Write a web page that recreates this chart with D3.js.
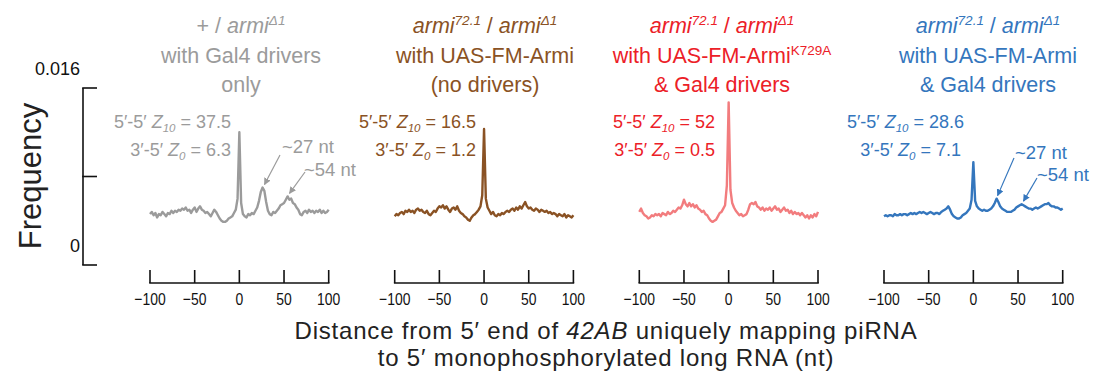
<!DOCTYPE html>
<html>
<head>
<meta charset="utf-8">
<script src="https://cdn.jsdelivr.net/npm/d3@7"></script>
<style>
  html, body { margin: 0; padding: 0; background: #fff; }
  svg { display: block; font-family: "Liberation Sans", Arial, sans-serif; }
</style>
</head>
<body>
<svg id="chart"></svg>
<script>
// distance (nt) from the piRNA 5' end, one point every 2 nt
const positions = d3.range(-100, 101, 2);

// frequency, in units of 10^-3
const grayFreq = [
  4.6, 4.8, 4.5, 4.7, 4.3, 4.6, 4.5, 4.8, 4.6, 4.4, 4.7, 4.6, 4.9, 4.7, 4.9, 4.8, 5.0, 4.9, 5.1, 5.0,
  5.2, 4.9, 5.0, 4.7, 5.0, 5.2, 4.8, 5.1, 5.3, 5.0, 4.9, 4.7, 4.8, 4.6, 4.4, 4.7, 5.0, 4.8, 4.5, 4.2,
  4.0, 3.9, 3.9, 4.0, 4.2, 4.3, 4.4, 4.7, 5.0, 6.0, 12.0, 5.6, 4.6, 4.4, 4.3, 4.6, 4.5, 4.7, 4.6, 4.9,
  5.2, 5.8, 6.6, 7.0, 6.7, 5.7, 4.9, 4.6, 4.5, 4.8, 4.7, 4.9, 5.1, 5.4, 5.5, 5.6, 5.9, 6.2, 5.9, 6.0,
  5.6, 5.5, 5.2, 5.0, 4.6, 4.5, 4.8, 4.9, 4.7, 5.0, 4.8, 4.9, 4.7, 4.9, 4.8, 5.0, 4.7, 4.9, 4.7, 4.8,
  5.0
];
const brownFreq = [
  4.4, 4.6, 4.5, 4.7, 4.8, 4.6, 4.9, 4.8, 5.0, 4.8, 4.9, 4.7, 5.0, 5.1, 4.9, 5.0, 4.8, 4.7, 4.9, 4.6,
  4.5, 4.7, 4.9, 4.8, 5.1, 5.3, 5.2, 5.4, 5.1, 5.3, 5.0, 4.8, 5.1, 5.2, 5.0, 5.3, 4.9, 4.7, 4.6, 4.4,
  4.3, 4.1, 4.0, 4.3, 4.5, 4.6, 4.8, 5.0, 5.3, 6.3, 12.3, 6.0, 5.2, 4.9, 4.6, 4.8, 4.5, 4.4, 4.6, 4.5,
  4.7, 4.6, 4.8, 4.9, 4.8, 5.0, 5.1, 4.9, 5.2, 5.0, 5.3, 5.1, 5.4, 5.7, 5.3, 5.1, 5.2, 5.0, 4.9, 5.1,
  5.0, 4.8, 5.0, 4.9, 4.8, 4.9, 4.7, 4.8, 4.6, 4.7, 4.6, 4.4, 4.6, 4.5, 4.4, 4.6, 4.3, 4.5, 4.4, 4.3,
  4.5
];
const redFreq = [
  4.8, 5.1, 4.7, 4.5, 4.4, 4.2, 4.3, 4.5, 4.4, 4.6, 4.5, 4.6, 4.4, 4.7, 4.6, 4.5, 4.8, 4.6, 4.7, 4.9,
  4.8, 5.0, 5.2, 5.1, 5.4, 5.9, 5.5, 5.3, 5.6, 5.3, 5.5, 5.2, 5.4, 5.1, 5.0, 4.8, 4.9, 4.6, 4.5, 4.2,
  4.0, 3.9, 4.0, 4.1, 4.4, 4.7, 4.8, 5.1, 5.4, 7.2, 14.7, 6.8, 5.6, 5.2, 4.9, 4.7, 4.5, 4.6, 4.4, 4.5,
  4.6, 5.0, 5.5, 5.6, 5.5, 5.7, 5.3, 5.2, 5.0, 5.2, 4.9, 5.1, 5.0, 5.2, 4.9, 5.1, 5.3, 5.0, 5.1, 4.8,
  5.0, 5.2, 4.9, 5.0, 4.7, 4.9, 4.6, 4.8, 4.6, 4.7, 4.5, 4.7, 4.5, 4.3, 4.5, 4.2, 4.5, 4.3, 4.6, 4.4,
  4.8
];
const blueFreq = [
  4.4, 4.5, 4.4, 4.5, 4.5, 4.4, 4.6, 4.5, 4.5, 4.6, 4.5, 4.6, 4.6, 4.5, 4.6, 4.7, 4.6, 4.7, 4.6, 4.7,
  4.8, 4.7, 4.8, 4.7, 4.6, 4.7, 4.8, 4.7, 4.6, 4.7, 4.7, 4.6, 4.8, 4.9, 5.0, 5.1, 5.3, 5.0, 4.6, 4.4,
  4.3, 4.2, 4.2, 4.3, 4.5, 4.6, 4.7, 4.9, 5.1, 5.9, 9.3, 5.8, 5.3, 5.1, 5.0, 4.9, 5.0, 4.9, 4.9, 5.0,
  5.1, 5.3, 5.6, 6.0, 5.7, 5.3, 5.1, 5.0, 4.9, 4.8, 4.8, 4.8, 4.9, 5.0, 5.2, 5.3, 5.4, 5.5, 5.4, 5.3,
  5.2, 5.1, 5.1, 5.0, 5.1, 5.2, 5.1, 5.2, 5.3, 5.4, 5.5, 5.5, 5.6, 5.4, 5.3, 5.3, 5.2, 5.2, 5.1, 5.0,
  5.1
];

const xTickValues = [-100, -50, 0, 50, 100];
const yTickValues = [0, 8, 16];
const yTickLabels = ["0", "", "0.016"];

const z10Values = ["37.5", "16.5", "52", "28.6"];
const z0Values = ["6.3", "1.2", "0.5", "7.1"];

// title lines, as runs: [text, italic?, superscript?]
const titleLines = [
  [[["+ / ", 0, 0], ["armi", 1, 0], ["Δ1", 1, 1]], [["with Gal4 drivers", 0, 0]], [["only", 0, 0]]],
  [[["armi", 1, 0], ["72.1", 1, 1], [" / ", 0, 0], ["armi", 1, 0], ["Δ1", 1, 1]], [["with UAS-FM-Armi", 0, 0]], [["(no drivers)", 0, 0]]],
  [[["armi", 1, 0], ["72.1", 1, 1], [" / ", 0, 0], ["armi", 1, 0], ["Δ1", 1, 1]], [["with UAS-FM-Armi", 0, 0], ["K729A", 0, 1]], [["& Gal4 drivers", 0, 0]]],
  [[["armi", 1, 0], ["72.1", 1, 1], [" / ", 0, 0], ["armi", 1, 0], ["Δ1", 1, 1]], [["with UAS-FM-Armi", 0, 0]], [["& Gal4 drivers", 0, 0]]]
];

const panels = [
  { freq: grayFreq, line: "#9b9b9b", text: "#9b9b9b", left: 150, titleX: 241, zX: 231, arrows: true },
  { freq: brownFreq, line: "#8a5224", text: "#8a5224", left: 394.7, titleX: 485, zX: 476, arrows: false },
  { freq: redFreq, line: "#f27c7e", text: "#ec2027", left: 639.3, titleX: 722, zX: 715, arrows: false },
  { freq: blueFreq, line: "#3476bd", text: "#3476bd", left: 884, titleX: 988, zX: 964, arrows: true }
];

const width = 1094, height = 377;
const svg = d3.select("#chart").attr("width", width).attr("height", height)
  .attr("viewBox", `0 0 ${width} ${height}`);

const y = d3.scaleLinear().domain([0, 16]).range([265, 88]);
const panelWidth = 178.7;
const axisY = 283;

// y axis: bracket with three ticks
svg.append("line")
  .attr("x1", 83).attr("x2", 83).attr("y1", y(0)).attr("y2", y(16))
  .attr("stroke", "#111").attr("stroke-width", 1.6);
svg.selectAll(".ytick").data(yTickValues).enter().append("line")
  .attr("x1", 82.2).attr("x2", 97)
  .attr("y1", d => y(d)).attr("y2", d => y(d))
  .attr("stroke", "#111").attr("stroke-width", 1.6);
svg.selectAll(".ylab").data(yTickValues).enter().append("text")
  .attr("x", 80).attr("y", d => y(d) - 13.5)
  .attr("text-anchor", "end")
  .style("font-size", "18px").style("fill", "#111")
  .text((d, i) => yTickLabels[i]);

svg.append("text")
  .attr("transform", "translate(41,176) rotate(-90)")
  .attr("text-anchor", "middle")
  .style("font-size", "31px").style("fill", "#222")
  .text("Frequency");

// arrow heads
panels.forEach((p, i) => {
  svg.append("defs").append("marker")
    .attr("id", "arrow" + i)
    .attr("viewBox", "0 0 10 10").attr("refX", 9).attr("refY", 5)
    .attr("markerWidth", 7).attr("markerHeight", 7)
    .attr("markerUnits", "userSpaceOnUse")
    .attr("orient", "auto")
    .append("path").attr("d", "M0,0L10,5L0,10z").attr("fill", p.text);
});

panels.forEach((p, i) => {
  const x = d3.scaleLinear().domain([-100, 100]).range([p.left, p.left + panelWidth]);
  const g = svg.append("g");

  // bottom axis, ticks pointing up
  g.append("line")
    .attr("x1", x(-100) - 0.8).attr("x2", x(100) + 0.8).attr("y1", axisY).attr("y2", axisY)
    .attr("stroke", "#111").attr("stroke-width", 1.6);
  g.selectAll(".xtick").data(xTickValues).enter().append("line")
    .attr("x1", d => x(d)).attr("x2", d => x(d))
    .attr("y1", axisY).attr("y2", axisY - 13)
    .attr("stroke", "#111").attr("stroke-width", 1.6);
  // condensed tick labels
  g.selectAll(".xlab").data(xTickValues).enter().append("text")
    .attr("transform", d => `translate(${x(d)},${axisY + 22}) scale(0.82,1)`)
    .attr("text-anchor", "middle")
    .style("font-size", "17px").style("fill", "#111")
    .text(d => d < 0 ? "\u2212" + Math.abs(d) : d);

  // the curve
  const line = d3.line().x((d, j) => x(positions[j])).y(d => y(d));
  g.append("path")
    .datum(p.freq)
    .attr("d", line)
    .attr("fill", "none")
    .attr("stroke", p.line)
    .attr("stroke-width", 2.4)
    .attr("stroke-linejoin", "round");

  // title
  titleLines[i].forEach((runs, k) => {
    const t = g.append("text")
      .attr("x", p.titleX).attr("y", 33 + k * 29.5)
      .attr("text-anchor", "middle")
      .style("font-size", "21.5px").style("fill", p.text);
    let raised = false;
    runs.forEach(r => {
      const s = t.append("tspan").text(r[0]);
      if (r[1]) s.style("font-style", "italic");
      if (r[2] && !raised) { s.attr("dy", -8).style("font-size", "13.5px"); raised = true; }
      else if (r[2]) s.style("font-size", "13.5px");
      else if (raised) { s.attr("dy", 8); raised = false; }
    });
  });

  // Z scores
  const zLines = [["5\u2032-5\u2032 ", "10", z10Values[i]], ["3\u2032-5\u2032 ", "0", z0Values[i]]];
  zLines.forEach((z, k) => {
    const t = g.append("text")
      .attr("x", p.zX - (i === 3 && k === 1 ? 3 : 0)).attr("y", 128 + k * 27.5)
      .attr("text-anchor", "end")
      .style("font-size", "18px").style("fill", p.text);
    t.append("tspan").text(z[0]);
    t.append("tspan").style("font-style", "italic").text("Z");
    t.append("tspan").attr("dy", 4).style("font-style", "italic").style("font-size", "11.5px").text(z[1]);
    t.append("tspan").attr("dy", -4).text(" = " + z[2]);
  });

  if (p.arrows) {
    const a = i === 0
      ? [{ lx: 282, ly: 153, x1: 280, y1: 155, pos: 27 }, { lx: 304, ly: 176, x1: 305, y1: 172, pos: 55 }]
      : [{ lx: 1015, ly: 159, x1: 1014, y1: 158, pos: 26 }, { lx: 1037, ly: 181, x1: 1037, y1: 178, pos: 55 }];
    a.forEach(d => {
      const j = positions.indexOf(d.pos % 2 ? d.pos - 1 : d.pos);
      g.append("line")
        .attr("x1", d.x1).attr("y1", d.y1)
        .attr("x2", x(d.pos) + 1).attr("y2", y(p.freq[j]) - 3)
        .attr("stroke", p.text).attr("stroke-width", 1.2)
        .attr("marker-end", `url(#arrow${i})`);
      g.append("text")
        .attr("x", d.lx).attr("y", d.ly)
        .style("font-size", "18.5px").style("fill", p.text)
        .text("~" + (d.pos < 40 ? 27 : 54) + " nt");
    });
  }
});

// x axis title
const xt = svg.append("text").attr("text-anchor", "middle")
  .style("font-size", "24px").style("letter-spacing", "0.8px").style("fill", "#222");
const l1 = xt.append("tspan").attr("x", 606).attr("y", 339);
l1.append("tspan").text("Distance from 5\u2032 end of ");
l1.append("tspan").style("font-style", "italic").text("42AB");
l1.append("tspan").text(" uniquely mapping piRNA");
xt.append("tspan").attr("x", 606).attr("y", 366).text("to 5\u2032 monophosphorylated long RNA (nt)");
</script>
</body>
</html>
